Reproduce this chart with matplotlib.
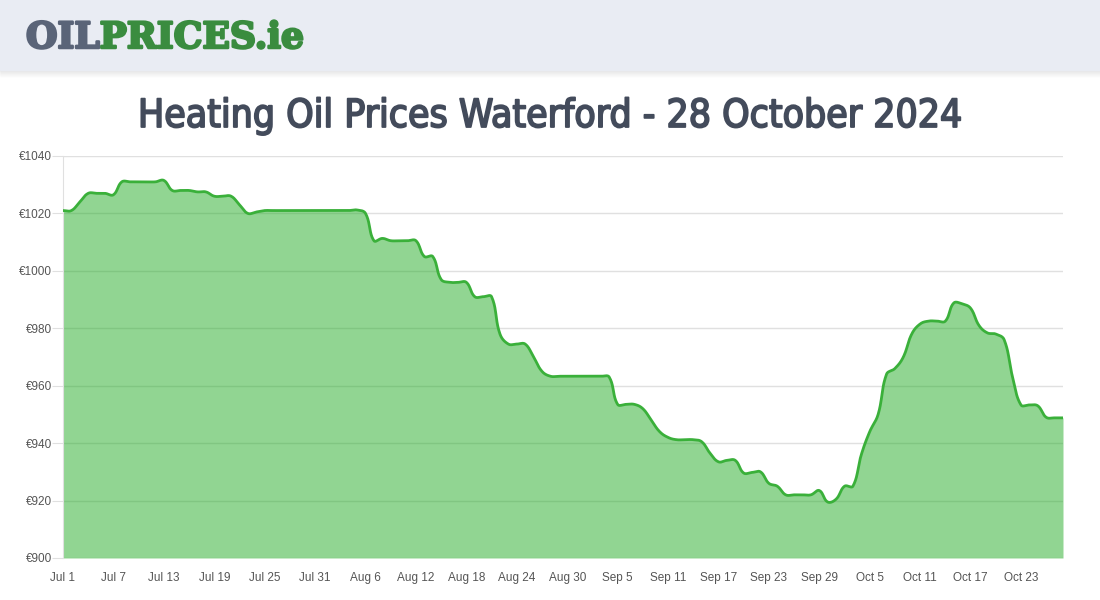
import numpy as np
import pandas as pd
import matplotlib
matplotlib.use("Agg")
import matplotlib.pyplot as plt
import matplotlib.patheffects as pe
from matplotlib.patches import Rectangle

# -------------------------------------------------------
# DATA - daily heating oil price, Waterford (EUR / 1000L)
# -------------------------------------------------------
start_date = "2024-07-01"
prices = [
    1021, 1021, 1024, 1027, 1027, 1027, 1026.5, 1031, 1031, 1031,   # Jul 1-10
    1031, 1031, 1031.5, 1028, 1028, 1028, 1027.5, 1027.5, 1026, 1026,  # Jul 11-20
    1026, 1023, 1020, 1020.5, 1021, 1021, 1021, 1021, 1021, 1021,   # Jul 21-30
    1021, 1021, 1021, 1021, 1021, 1021.2, 1020, 1010.5, 1011.3, 1010.5,  # Jul 31-Aug 9
    1010.5, 1010.5, 1010.5, 1005, 1005, 997, 996, 996, 996, 991,    # Aug 10-19
    991, 991, 978, 974.5, 974.5, 974.5, 970, 965, 963.3, 963.3,     # Aug 20-29
    963.3, 963.3, 963.3, 963.3, 963.3, 963, 953.5, 953.5, 953.5, 952,  # Aug 30-Sep 8
    948, 944, 942, 941.2, 941.2, 941.2, 940.5, 936.5, 933.5, 934,   # Sep 9-18
    934, 929.6, 929.8, 930, 926, 925, 922, 922, 922, 922,           # Sep 19-28
    923.5, 919.5, 920.5, 925, 925, 936, 944, 950, 964, 966,         # Sep 29-Oct 8
    970, 978, 981.5, 982.5, 982.5, 982.5, 988.8, 988.5, 987, 981,   # Oct 9-18
    978.4, 978, 976, 963, 953.3, 953.3, 953, 949, 948.8, 948.8,     # Oct 19-28
]
tick_labels = ["Jul 1", "Jul 7", "Jul 13", "Jul 19", "Jul 25", "Jul 31",
               "Aug 6", "Aug 12", "Aug 18", "Aug 24", "Aug 30", "Sep 5",
               "Sep 11", "Sep 17", "Sep 23", "Sep 29", "Oct 5", "Oct 11",
               "Oct 17", "Oct 23"]
y_ticks = [900, 920, 940, 960, 980, 1000, 1020, 1040]

dates = pd.date_range(start_date, periods=len(prices), freq="D")
x = np.arange(len(prices), dtype=float)
y = np.array(prices, dtype=float)


# cubic bezier smoothing with tension (same idea as the web chart's curve)
def smooth_curve(xk, yk, sx, sy, tension=0.4, steps=20):
    px, py = xk * sx, yk * sy          # work in pixel-like space
    n = len(px)
    cp_in = np.zeros((n, 2))
    cp_out = np.zeros((n, 2))
    for i in range(n):
        prev = np.array([px[max(i - 1, 0)], py[max(i - 1, 0)]])
        cur = np.array([px[i], py[i]])
        nxt = np.array([px[min(i + 1, n - 1)], py[min(i + 1, n - 1)]])
        d01 = np.hypot(*(cur - prev))
        d12 = np.hypot(*(nxt - cur))
        tot = d01 + d12
        s01 = d01 / tot if tot else 0
        s12 = d12 / tot if tot else 0
        cp_in[i] = cur - tension * s01 * (nxt - prev)
        cp_out[i] = cur + tension * s12 * (nxt - prev)
    t = np.linspace(0, 1, steps, endpoint=False)[:, None]
    pts = []
    for i in range(n - 1):
        p0 = np.array([px[i], py[i]])
        p3 = np.array([px[i + 1], py[i + 1]])
        b = ((1 - t) ** 3 * p0 + 3 * (1 - t) ** 2 * t * cp_out[i]
             + 3 * (1 - t) * t ** 2 * cp_in[i + 1] + t ** 3 * p3)
        pts.append(b)
    pts.append(np.array([[px[-1], py[-1]]]))
    pts = np.vstack(pts)
    return pts[:, 0] / sx, pts[:, 1] / sy


xs, ys = smooth_curve(x, y, sx=8.4, sy=2.871)

# -------------------------------------------------------
# FIGURE
# -------------------------------------------------------
fig = plt.figure(figsize=(11, 6), dpi=100)
fig.patch.set_facecolor("white")

# header band with a soft shadow
for i in range(8):
    fig.patches.append(Rectangle((0, 1 - (70 + i) / 600), 1, 1 / 600,
                                 transform=fig.transFigure,
                                 color="#000000", alpha=0.03 * (8 - i) / 8,
                                 zorder=0))
fig.patches.append(Rectangle((0, 1 - 70 / 600), 1, 70 / 600,
                             transform=fig.transFigure,
                             color="#E9ECF3", zorder=1))

# logo
logo_y = 1 - 38 / 600
t1 = fig.text(26 / 1100, logo_y, "OIL", family="DejaVu Serif", weight="bold",
              fontsize=26, color="#5A6478", va="center", ha="left", zorder=2,
              path_effects=[pe.withStroke(linewidth=1.8, foreground="#5A6478")])
fig.canvas.draw()
bb = t1.get_window_extent()
fig.text(bb.x1 / 1100, logo_y, "PRICES.ie", family="DejaVu Serif",
         weight="bold", fontsize=26, color="#3A8C3F", va="center", ha="left",
         zorder=2,
         path_effects=[pe.withStroke(linewidth=1.8, foreground="#3A8C3F")])

# title (condensed face, thickened a little to look like the web font)
fig.text(0.5, 1 - 116 / 600, "Heating Oil Prices Waterford - 28 October 2024",
         ha="center", va="center", fontsize=28, color="#434B5B",
         family="DejaVu Sans", stretch="condensed", weight="normal",
         path_effects=[pe.withStroke(linewidth=1.3, foreground="#434B5B")])

ax = fig.add_axes([63 / 1100, 42 / 600, 1000 / 1100, 402 / 600])
ax.set_xlim(x[0], x[-1])
ax.set_ylim(900, 1040)

ax.fill_between(xs, 900, ys, color="#24AD26", alpha=0.5, lw=0, zorder=2)
ax.plot(xs, ys, color="#3AB03A", lw=2, zorder=3)

ax.set_yticks(y_ticks)
ax.set_yticklabels([f"€{v}" for v in y_ticks], family="Liberation Sans")
tick_pos = [dates.get_loc(pd.Timestamp(f"{lbl} 2024")) for lbl in tick_labels]
ax.set_xticks(tick_pos)
ax.set_xticklabels(tick_labels, family="Liberation Sans")

ax.grid(axis="y", color="#E0E0E0", lw=1, zorder=1)
ax.set_axisbelow(True)
for side in ["top", "right", "bottom"]:
    ax.spines[side].set_visible(False)
ax.spines["left"].set_color("#E0E0E0")
ax.tick_params(axis="y", length=8, color="#E0E0E0", labelsize=8.5,
               labelcolor="#555555", pad=0)
ax.tick_params(axis="x", length=0, labelsize=8.5, labelcolor="#555555", pad=10)

fig.savefig("out.png", dpi=100)
